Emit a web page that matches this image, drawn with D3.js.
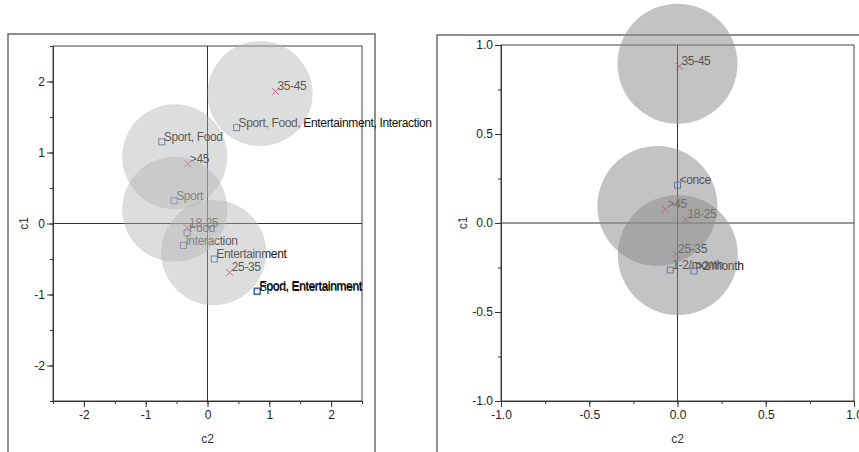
<!DOCTYPE html>
<html><head><meta charset="utf-8">
<script src="https://cdn.jsdelivr.net/npm/d3@7"></script>
<style>
body{margin:0;background:#fff}
svg{display:block}
text{font-family:"Liberation Sans",Arial,sans-serif}
</style>
</head><body>
<svg id="c" width="859" height="452"></svg>
<script>
// ---------- data: left panel (interests) ----------
const leftAgeLabels = ["35-45", ">45", "18-25", "25-35"];
const leftAgeC2 = [1.10, -0.32, -0.33, 0.36];
const leftAgeC1 = [1.86, 0.84, -0.06, -0.69];
const leftCatLabels = ["Sport, Food, Entertainment, Interaction", "Sport, Food", "Sport", "Food", "Interaction", "Entertainment", "Sport, Entertainment", "Food, Entertainment"];
const leftCatC2 = [0.47, -0.74, -0.54, -0.33, -0.39, 0.11, 0.80, 0.81];
const leftCatC1 = [1.35, 1.15, 0.32, -0.13, -0.31, -0.50, -0.96, -0.95];
const leftCircleC2 = [0.85, -0.53, -0.53, 0.10];
const leftCircleC1 = [1.83, 0.94, 0.20, -0.41];
const leftCircleR = [0.85, 0.85, 0.85, 0.85];
const leftTicks = [-2, -1, 0, 1, 2];
const leftMinorTicks = [-2.5, -2, -1.5, -1, -0.5, 0, 0.5, 1, 1.5, 2, 2.5];

// ---------- data: right panel (frequency) ----------
const rightAgeLabels = ["35-45", ">45", "18-25", "25-35"];
const rightAgeC2 = [0.011, -0.068, 0.045, -0.008];
const rightAgeC1 = [0.88, 0.077, 0.021, -0.176];
const rightCatLabels = ["<once", "1-2/month", ">2/month"];
const rightCatC2 = [0.0, -0.041, 0.093];
const rightCatC1 = [0.213, -0.264, -0.27];
const rightCircleC2 = [0.0, -0.114, 0.002];
const rightCircleC1 = [0.895, 0.096, -0.18];
const rightCircleR = [0.34, 0.34, 0.34];
const rightTicks = [-1, -0.5, 0, 0.5, 1];
const rightMinorTicks = [-1, -0.75, -0.5, -0.25, 0, 0.25, 0.5, 0.75, 1];

const svg = d3.select("#c");

function panel(o) {
  const g = svg.append("g");
  g.append("rect").attr("x", o.frame[0]).attr("y", o.frame[1]).attr("width", o.frame[2]).attr("height", o.frame[3])
    .attr("fill", "none").attr("stroke", "#555").attr("stroke-width", 1.3);
  const x = d3.scaleLinear().domain(o.domain).range([o.x0, o.x1]);
  const y = d3.scaleLinear().domain(o.domain).range([o.y1, o.y0]);
  g.append("rect").attr("x", o.x0).attr("y", o.y0).attr("width", o.x1 - o.x0).attr("height", o.y1 - o.y0)
    .attr("fill", "none").attr("stroke", "#444").attr("stroke-width", 1);
  g.append("line").attr("x1", x(0)).attr("x2", x(0)).attr("y1", o.y0).attr("y2", o.y1).attr("stroke", "#333");
  g.append("line").attr("x1", o.x0).attr("x2", o.x1).attr("y1", y(0)).attr("y2", y(0)).attr("stroke", "#333");
  const styleAxis = sel => {
    sel.selectAll("path.domain").attr("stroke", "#333");
    sel.selectAll(".tick line").attr("stroke", "#333");
    sel.selectAll(".tick text").attr("fill", "#222").style("font-size", "12px").style("font-family", '"Liberation Sans",Arial,sans-serif');
  };
  g.append("g").attr("transform", `translate(0,${o.y1})`)
    .call(d3.axisBottom(x).tickValues(o.minor).tickSize(3).tickSizeOuter(0).tickFormat(""))
    .call(styleAxis);
  g.append("g").attr("transform", `translate(0,${o.y1})`)
    .call(d3.axisBottom(x).tickValues(o.ticks).tickSize(6).tickSizeOuter(0).tickPadding(3).tickFormat(o.fmt))
    .call(styleAxis);
  g.append("g").attr("transform", `translate(${o.x0},0)`)
    .call(d3.axisLeft(y).tickValues(o.minor).tickSize(3).tickSizeOuter(0).tickFormat(""))
    .call(styleAxis);
  g.append("g").attr("transform", `translate(${o.x0},0)`)
    .call(d3.axisLeft(y).tickValues(o.ticks).tickSize(6).tickSizeOuter(0).tickPadding(2).tickFormat(o.fmt))
    .call(styleAxis);
  g.append("text").attr("x", x(0)).attr("y", 443).attr("text-anchor", "middle").attr("fill", "#333").style("font-size", "12px").text("c2");
  g.append("text").attr("transform", `translate(${o.ylabX},${y(0)}) rotate(-90)`).attr("text-anchor", "middle").attr("dy", "0.35em")
    .attr("fill", "#333").style("font-size", "12px").text("c1");

  const cats = o.catLabels.map((l, i) => ({l, c2: o.catC2[i], c1: o.catC1[i]}));
  g.selectAll("rect.cat").data(cats).enter().append("rect")
    .attr("x", d => x(d.c2) - 3).attr("y", d => y(d.c1) - 3).attr("width", 6).attr("height", 6)
    .attr("fill", "none").attr("stroke", "#3b63b3").attr("stroke-width", 1);
  g.selectAll("text.cat").data(cats).enter().append("text")
    .attr("x", d => x(d.c2) + 2).attr("y", d => y(d.c1) - 1)
    .attr("fill", "#111").style("font-size", "12px").style("letter-spacing", "-0.35px").text(d => d.l);
  const ages = o.ageLabels.map((l, i) => ({l, c2: o.ageC2[i], c1: o.ageC1[i]}));
  const cross = g.selectAll("g.age").data(ages).enter().append("g")
    .attr("transform", d => `translate(${x(d.c2)},${y(d.c1)})`);
  cross.append("path").attr("d", "M-3.5,-3.5L3.5,3.5M-3.5,3.5L3.5,-3.5").attr("stroke", "#d0345a").attr("stroke-width", 1).attr("fill", "none");
  g.selectAll("text.age").data(ages).enter().append("text")
    .attr("x", d => x(d.c2) + 2).attr("y", d => y(d.c1) - 1)
    .attr("fill", "#111").style("font-size", "12px").style("letter-spacing", "-0.35px").text(d => d.l);

  const circles = o.circC2.map((c, i) => ({c2: c, c1: o.circC1[i], r: o.circR[i]}));
  g.selectAll("circle").data(circles).enter().append("circle")
    .attr("cx", d => x(d.c2)).attr("cy", d => y(d.c1)).attr("r", d => x(d.r) - x(0))
    .attr("fill", o.circFill).attr("fill-opacity", o.circOpacity);
}

panel({
  frame: [8, 34, 367, 440], domain: [-2.5, 2.5], x0: 53, x1: 362, y0: 46, y1: 401,
  ticks: leftTicks, minor: leftMinorTicks, fmt: d => String(d), ylabX: 24,
  catLabels: leftCatLabels, catC2: leftCatC2, catC1: leftCatC1,
  ageLabels: leftAgeLabels, ageC2: leftAgeC2, ageC1: leftAgeC1,
  circC2: leftCircleC2, circC1: leftCircleC1, circR: leftCircleR,
  circFill: "#b2b2b2", circOpacity: 0.44
});
panel({
  frame: [437, 35, 440, 440], domain: [-1, 1], x0: 501, x1: 854, y0: 45, y1: 401,
  ticks: rightTicks, minor: rightMinorTicks, fmt: d => d.toFixed(1), ylabX: 463,
  catLabels: rightCatLabels, catC2: rightCatC2, catC1: rightCatC1,
  ageLabels: rightAgeLabels, ageC2: rightAgeC2, ageC1: rightAgeC1,
  circC2: rightCircleC2, circC1: rightCircleC1, circR: rightCircleR,
  circFill: "#8c8c8c", circOpacity: 0.52
});
</script>
</body></html>
